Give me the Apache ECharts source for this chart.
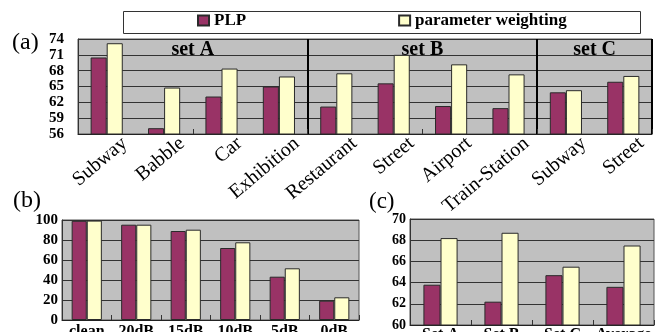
<!DOCTYPE html>
<html>
<head>
<meta charset="utf-8">
<script src="https://cdn.jsdelivr.net/npm/echarts@6/dist/echarts.min.js"></script>
<style>
  html, body { margin: 0; padding: 0; background: #ffffff; }
  #chart { width: 656px; height: 332px; }
</style>
</head>
<body>
<div id="chart"></div>
<script>
// (a) accuracy per noise type, grouped into three test sets
const noiseTypes = ['Subway', 'Babble', 'Car', 'Exhibition', 'Restaurant', 'Street', 'Airport', 'Train-Station', 'Subway', 'Street'];
const noiseSets = ['set A', 'set B', 'set C'];
const setSpans = [[0, 3], [4, 7], [8, 9]];
const plpByNoise = [70.5, 57.1, 63.1, 65.0, 61.2, 65.6, 61.3, 60.9, 63.9, 65.9];
const pwByNoise = [73.2, 64.8, 68.4, 66.9, 67.5, 71.0, 69.2, 67.3, 64.3, 67.0];
const ticksA = [56, 59, 62, 65, 68, 71, 74];

// (b) accuracy per SNR level
const snrLevels = ['clean', '20dB', '15dB', '10dB', '5dB', '0dB'];
const plpBySnr = [99.2, 95.3, 89.0, 72.0, 43.3, 19.3];
const pwBySnr = [99.4, 95.3, 90.3, 77.7, 51.7, 22.7];
const ticksB = [0, 20, 40, 60, 80, 100];

// (c) averages per test set
const setNames = ['Set A', 'Set B', 'Set C', 'Average'];
const plpBySet = [63.8, 62.2, 64.7, 63.6];
const pwBySet = [68.2, 68.7, 65.5, 67.5];
const ticksC = [60, 62, 64, 66, 68, 70];

const seriesNames = ['PLP', 'parameter weighting'];

const SERIF = '"Liberation Serif", "Times New Roman", serif';
const PLP_COLOR = '#993366';
const PW_COLOR = '#FFFFCC';
const PLOT_BG = '#C0C0C0';
const GRID_LINE = '#333333';

function rangeOf(ticks) {
  return { min: ticks[0], max: ticks[ticks.length - 1], interval: ticks[1] - ticks[0] };
}

function valueAxis(gridIndex, ticks, fontSize, margin) {
  const r = rangeOf(ticks);
  return {
    type: 'value', gridIndex: gridIndex,
    min: r.min, max: r.max, interval: r.interval,
    axisLine: { show: true, lineStyle: { color: '#333', width: 1 } },
    axisTick: { show: false },
    splitLine: { show: true, lineStyle: { color: GRID_LINE, width: 1 } },
    axisLabel: { color: '#000', fontFamily: SERIF, fontWeight: 'bold', fontSize: fontSize, margin: margin }
  };
}

function categoryAxis(gridIndex, data, label, extra) {
  return Object.assign({
    type: 'category', gridIndex: gridIndex, data: data,
    axisLine: { show: true, lineStyle: { color: '#222', width: 1 } },
    axisTick: { show: true, inside: true, length: 5, lineStyle: { color: '#333' } },
    axisLabel: label
  }, extra || {});
}

function barPair(axisIndex, plp, pw, gap, extraFirst) {
  const base = {
    type: 'bar', xAxisIndex: axisIndex, yAxisIndex: axisIndex,
    barGap: '0%', barCategoryGap: gap, animation: false
  };
  return [
    Object.assign({}, base, {
      name: seriesNames[0], data: plp,
      itemStyle: { color: PLP_COLOR, borderColor: '#2a2a2a', borderWidth: 1 }
    }, extraFirst || {}),
    Object.assign({}, base, {
      name: seriesNames[1], data: pw,
      itemStyle: { color: PW_COLOR, borderColor: '#2a2a2a', borderWidth: 1 }
    })
  ];
}

// fixed plot rectangles: labels may run past the canvas edge
const gridStyle = { show: true, backgroundColor: PLOT_BG, borderColor: '#555', borderWidth: 1, outerBoundsMode: 'none', containLabel: false };
const bottomLabel = { color: '#000', fontFamily: SERIF, fontWeight: 'bold', fontSize: 16, interval: 0 };

const chart = echarts.init(document.getElementById('chart'), null, { renderer: 'canvas' });

// set separators sit on the category boundaries that open set B and set C
const setStarts = setSpans.slice(1).map(s => s[0]);

const option = {
  backgroundColor: '#ffffff',
  animation: false,
  textStyle: { fontFamily: SERIF },
  legend: {
    data: seriesNames,
    left: 197, top: 12,
    padding: 0,
    itemGap: 152,
    itemWidth: 11, itemHeight: 10,
    icon: 'rect',
    textStyle: { fontFamily: SERIF, fontWeight: 'bold', fontSize: 17, color: '#000' }
  },
  graphic: [
    { type: 'rect', left: 121, top: 9, shape: { width: 517, height: 22 },
      style: { fill: 'none', stroke: '#333', lineWidth: 1 }, z: 0 },
    { type: 'text', left: 12, top: 31, style: { text: '(a)', font: '24px ' + SERIF, fill: '#000' } },
    { type: 'text', left: 13, top: 189, style: { text: '(b)', font: '24px ' + SERIF, fill: '#000' } },
    { type: 'text', left: 369, top: 190, style: { text: '(c)', font: '23px ' + SERIF, fill: '#000' } }
  ],
  grid: [
    Object.assign({ left: 78, top: 39, width: 574, height: 95 }, gridStyle),
    Object.assign({ left: 62, top: 220, width: 297, height: 100 }, gridStyle),
    Object.assign({ left: 410, top: 219, width: 244, height: 106 }, gridStyle),
    // carries the slanted noise-type labels of (a)
    { left: 96, top: 39, width: 574, height: 95, show: false, outerBoundsMode: 'none', containLabel: false }
  ],
  xAxis: [
    categoryAxis(0, noiseTypes, { show: false }, {
      splitLine: {
        show: true,
        interval: function (index) { return setStarts.indexOf(index) >= 0; },
        lineStyle: { color: '#000', width: 2 }
      }
    }),
    categoryAxis(1, snrLevels, Object.assign({ margin: 4 }, bottomLabel)),
    categoryAxis(2, setNames, Object.assign({ margin: 2 }, bottomLabel)),
    {
      type: 'category', gridIndex: 3, data: noiseTypes,
      axisLine: { show: false }, axisTick: { show: false }, splitLine: { show: false },
      axisLabel: { rotate: 40, interval: 0, color: '#000', fontFamily: SERIF, fontSize: 20, margin: 7 }
    }
  ],
  yAxis: [
    valueAxis(0, ticksA, 15, 14),
    valueAxis(1, ticksB, 15, 4),
    valueAxis(2, ticksC, 14, 4),
    { type: 'value', gridIndex: 3, show: false }
  ],
  series: [].concat(
    barPair(0, plpByNoise, pwByNoise, '44%', {
      markArea: {
        silent: true,
        itemStyle: { color: 'rgba(0,0,0,0)' },
        label: { show: true, position: 'insideTop', distance: 1, color: '#000',
                 fontFamily: SERIF, fontWeight: 'bold', fontSize: 20 },
        data: setSpans.map((s, i) => [{ name: noiseSets[i], xAxis: s[0] }, { xAxis: s[1] }])
      }
    }),
    barPair(1, plpBySnr, pwBySnr, '39%'),
    barPair(2, plpBySet, pwBySet, '44%')
  )
};

chart.setOption(option);
</script>
</body>
</html>
